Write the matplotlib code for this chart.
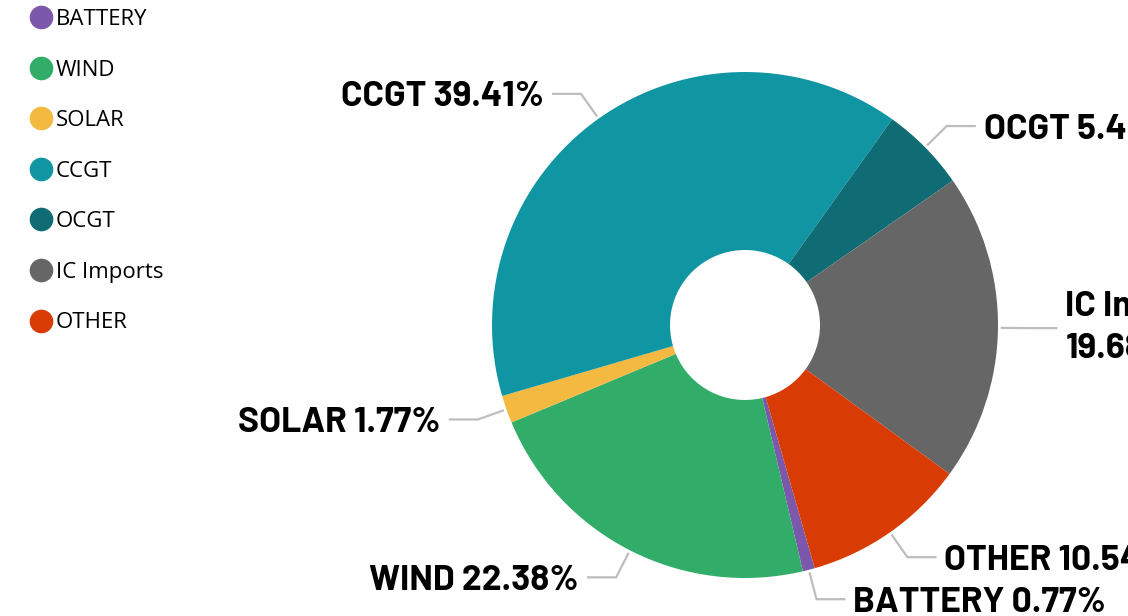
import matplotlib
matplotlib.use('Agg')
import matplotlib.pyplot as plt
import numpy as np
from matplotlib.lines import Line2D

categories = ['BATTERY', 'WIND', 'SOLAR', 'CCGT', 'OCGT', 'IC Imports', 'OTHER']
shares = [0.77, 22.38, 1.77, 39.41, 5.45, 19.68, 10.54]
label_names = ['BATTERY', 'WIND', 'SOLAR', 'CCGT', 'OCGT', 'IC Imports\n', 'OTHER']
colors = ['#7B58AB', '#31AD69', '#F4B941', '#1096A3', '#0F6B74', '#666666', '#D93B04']

W, H = 1128, 616
fig = plt.figure(figsize=(W / 100, H / 100), dpi=100)
ax = fig.add_axes([0, 0, 1, 1])
cx, cy = 745, H - 325
R = 253
hole = 75
wedges, _ = ax.pie(shares, colors=colors, startangle=90 - 164, counterclock=False,
                   center=(cx, cy), radius=R, frame=True,
                   wedgeprops=dict(width=R - hole, edgecolor='none', linewidth=0))
ax.set_xlim(0, W)
ax.set_ylim(0, H)
ax.set_aspect('equal')
ax.axis('off')

label_font = dict(family=['Barlow', 'DejaVu Sans'], weight='bold', size=25.5)
for w, name, val in zip(wedges, label_names, shares):
    th = np.deg2rad((w.theta1 + w.theta2) / 2)
    d = np.array([np.cos(th), np.sin(th)])
    p0 = np.array([cx, cy]) + 1.015 * R * d
    p1 = np.array([cx, cy]) + 1.12 * R * d
    side = 1 if d[0] >= 0 else -1
    p2 = p1 + np.array([side * 28, 0])
    ax.plot([p0[0], p1[0], p2[0]], [p0[1], p1[1], p2[1]], color='#BDBDBD', lw=1.6,
            solid_joinstyle='miter', clip_on=False)
    multi = name.endswith('\n')
    sep = '' if multi else ' '
    ax.text(p2[0] + side * 9, p2[1], f"{name}{sep}{val:.2f}%", ha='left' if side > 0 else 'right',
            va='center' if multi else 'center_baseline', linespacing=1.4, **label_font)

handles = [Line2D([], [], marker='o', linestyle='', markersize=16, markerfacecolor=c,
                  markeredgecolor=c) for c in colors]
leg = fig.legend(handles, categories, loc='upper left', bbox_to_anchor=(30 / W, 1 - 9 / H),
                 frameon=False, prop=dict(family='Open Sans', size=16), labelspacing=1.33,
                 handlelength=1.0, handletextpad=0.15, borderpad=0, borderaxespad=0)

fig.savefig('out.png', dpi=100)
